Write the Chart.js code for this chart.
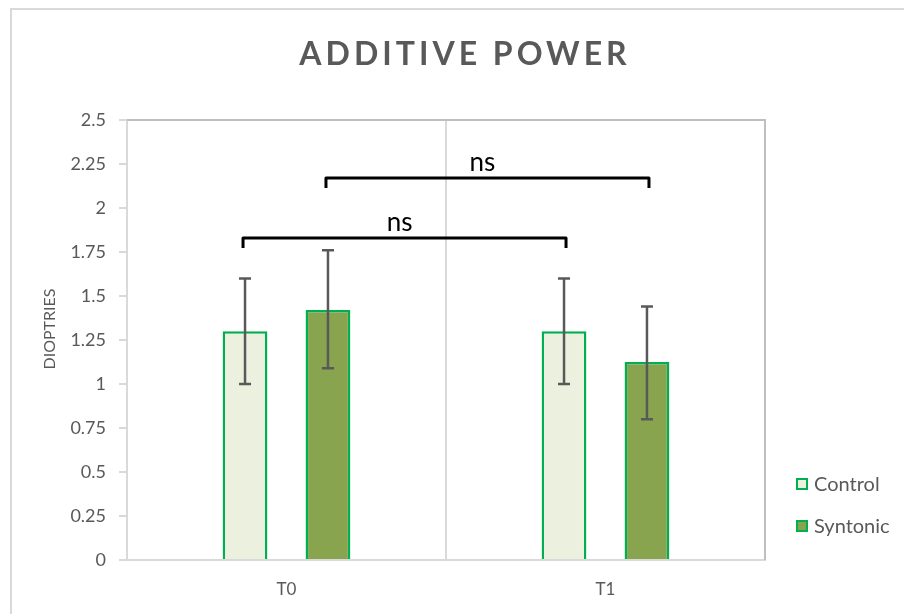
<!DOCTYPE html>
<html>
<head>
<meta charset="utf-8">
<script src="https://cdn.jsdelivr.net/npm/chart.js@4/dist/chart.umd.min.js"></script>
<style>
  html, body { margin: 0; padding: 0; background: #ffffff; }
  #wrap { width: 904px; height: 614px; }
</style>
</head>
<body>
<div id="wrap"><canvas id="chart" width="904" height="614"></canvas></div>
<script>
// Categories and series
const categories = ['T0', 'T1'];
const seriesNames = ['Control', 'Syntonic'];
const controlMean = [1.3, 1.3];
const syntonicMean = [1.42, 1.125];
// Error bar ends (low / high) per category
const controlLow = [1.0, 1.0];
const controlHigh = [1.6, 1.6];
const syntonicLow = [1.09, 0.80];
const syntonicHigh = [1.76, 1.44];
// Significance brackets: series index compared across T0 → T1, height in dioptries
const bracketSeries = [0, 1];
const bracketLevels = [1.83, 2.17];
const bracketLabels = ['ns', 'ns'];
// Axis
const yMin = 0, yMax = 2.5, yStep = 0.25;
const chartTitle = 'ADDITIVE POWER';
const yTitle = 'DIOPTRIES';

const FONT = 'Lato, "Open Sans", sans-serif';
const TEXT = '#595959';
const GREEN_EDGE = '#00b050';
const fills = ['#ebf1de', '#89a44e'];

const errorLows = [controlLow, syntonicLow];
const errorHighs = [controlHigh, syntonicHigh];

const decorations = {
  id: 'decorations',
  beforeDraw(chart) {
    const ctx = chart.ctx;
    ctx.save();
    ctx.strokeStyle = '#d9d9d9';
    ctx.lineWidth = 2;
    ctx.beginPath();
    ctx.moveTo(11, 614);
    ctx.lineTo(11, 9);
    ctx.lineTo(904, 9);
    ctx.stroke();
    ctx.restore();
  },
  afterDatasetsDraw(chart) {
    const { ctx, chartArea: a, scales: { y } } = chart;
    ctx.save();
    // plot-area outline (top and right)
    ctx.strokeStyle = '#bfbfbf';
    ctx.lineWidth = 2;
    ctx.beginPath();
    ctx.moveTo(a.left, a.top);
    ctx.lineTo(a.right, a.top);
    ctx.lineTo(a.right, a.bottom);
    ctx.stroke();

    // error bars
    ctx.strokeStyle = '#595959';
    ctx.lineWidth = 2.5;
    chart.data.datasets.forEach((ds, i) => {
      const meta = chart.getDatasetMeta(i);
      meta.data.forEach((bar, j) => {
        const yl = y.getPixelForValue(errorLows[i][j]);
        const yh = y.getPixelForValue(errorHighs[i][j]);
        ctx.beginPath();
        ctx.moveTo(bar.x, yl); ctx.lineTo(bar.x, yh);
        ctx.moveTo(bar.x - 6, yl); ctx.lineTo(bar.x + 6, yl);
        ctx.moveTo(bar.x - 6, yh); ctx.lineTo(bar.x + 6, yh);
        ctx.stroke();
      });
    });

    // significance brackets
    ctx.strokeStyle = '#000000';
    ctx.lineWidth = 3;
    ctx.lineJoin = 'round';
    ctx.fillStyle = '#000000';
    ctx.font = '26px ' + FONT;
    ctx.textAlign = 'center';
    ctx.textBaseline = 'middle';
    bracketSeries.forEach((s, k) => {
      const meta = chart.getDatasetMeta(s);
      const x0 = meta.data[0].x - 2;
      const x1 = meta.data[1].x + 2;
      const yb = y.getPixelForValue(bracketLevels[k]);
      ctx.beginPath();
      ctx.moveTo(x0, yb + 10);
      ctx.lineTo(x0, yb);
      ctx.lineTo(x1, yb);
      ctx.lineTo(x1, yb + 10);
      ctx.stroke();
      ctx.fillText(bracketLabels[k], (x0 + x1) / 2 - 5, yb - 15);
    });
    ctx.restore();
  },
  afterDraw(chart) {
    const { ctx, chartArea: a } = chart;
    ctx.save();
    // title
    ctx.fillStyle = TEXT;
    ctx.font = 'bold 32px ' + FONT;
    ctx.textAlign = 'center';
    ctx.textBaseline = 'middle';
    if ('letterSpacing' in ctx) ctx.letterSpacing = '4px';
    ctx.fillText(chartTitle, 465, 55);
    if ('letterSpacing' in ctx) ctx.letterSpacing = '0px';

    // y axis title
    ctx.save();
    ctx.translate(50, (a.top + a.bottom) / 2 - 11);
    ctx.rotate(-Math.PI / 2);
    ctx.font = '16px ' + FONT;
    ctx.fillText(yTitle, 0, 0);
    ctx.restore();

    // legend
    ctx.textAlign = 'left';
    ctx.font = '20px ' + FONT;
    chart.data.datasets.forEach((ds, i) => {
      const cy = 484 + i * 42;
      ctx.fillStyle = ds.backgroundColor;
      ctx.fillRect(797, cy - 5, 10, 10);
      ctx.strokeStyle = GREEN_EDGE;
      ctx.lineWidth = 2;
      ctx.strokeRect(797, cy - 5, 10, 10);
      ctx.fillStyle = TEXT;
      ctx.fillText(ds.label, 814, cy + 1);
    });
    ctx.restore();
  }
};

new Chart(document.getElementById('chart'), {
  type: 'bar',
  data: {
    labels: categories,
    datasets: [
      { label: seriesNames[0], data: controlMean, backgroundColor: fills[0], borderColor: GREEN_EDGE, borderWidth: 2.5 },
      { label: seriesNames[1], data: syntonicMean, backgroundColor: fills[1], borderColor: GREEN_EDGE, borderWidth: 2.5 }
    ]
  },
  options: {
    responsive: false,
    animation: false,
    devicePixelRatio: 1,
    datasets: { bar: { categoryPercentage: 0.52, barPercentage: 0.54 } },
    layout: { padding: { left: 0, right: 139, top: 120, bottom: 0 } },
    plugins: {
      legend: { display: false },
      title: { display: false },
      tooltip: { enabled: false }
    },
    scales: {
      x: {
        grid: { offset: true, drawTicks: false, color: '#d9d9d9', lineWidth: 2 },
        border: { color: '#d9d9d9', width: 2 },
        ticks: { color: TEXT, font: { family: FONT, size: 17 }, padding: 19 },
        afterFit(scale) { scale.height = 54; }
      },
      y: {
        min: yMin, max: yMax,
        grid: { drawOnChartArea: false, drawTicks: true, tickLength: 8, color: '#d9d9d9', lineWidth: 2 },
        border: { color: '#d9d9d9', width: 2 },
        ticks: {
          stepSize: yStep, color: TEXT, font: { family: FONT, size: 18 }, padding: 13,
          callback: (v) => String(Math.round(v * 100) / 100)
        },
        afterFit(scale) { scale.width = 127; }
      }
    }
  },
  plugins: [decorations]
});
</script>
</body>
</html>
